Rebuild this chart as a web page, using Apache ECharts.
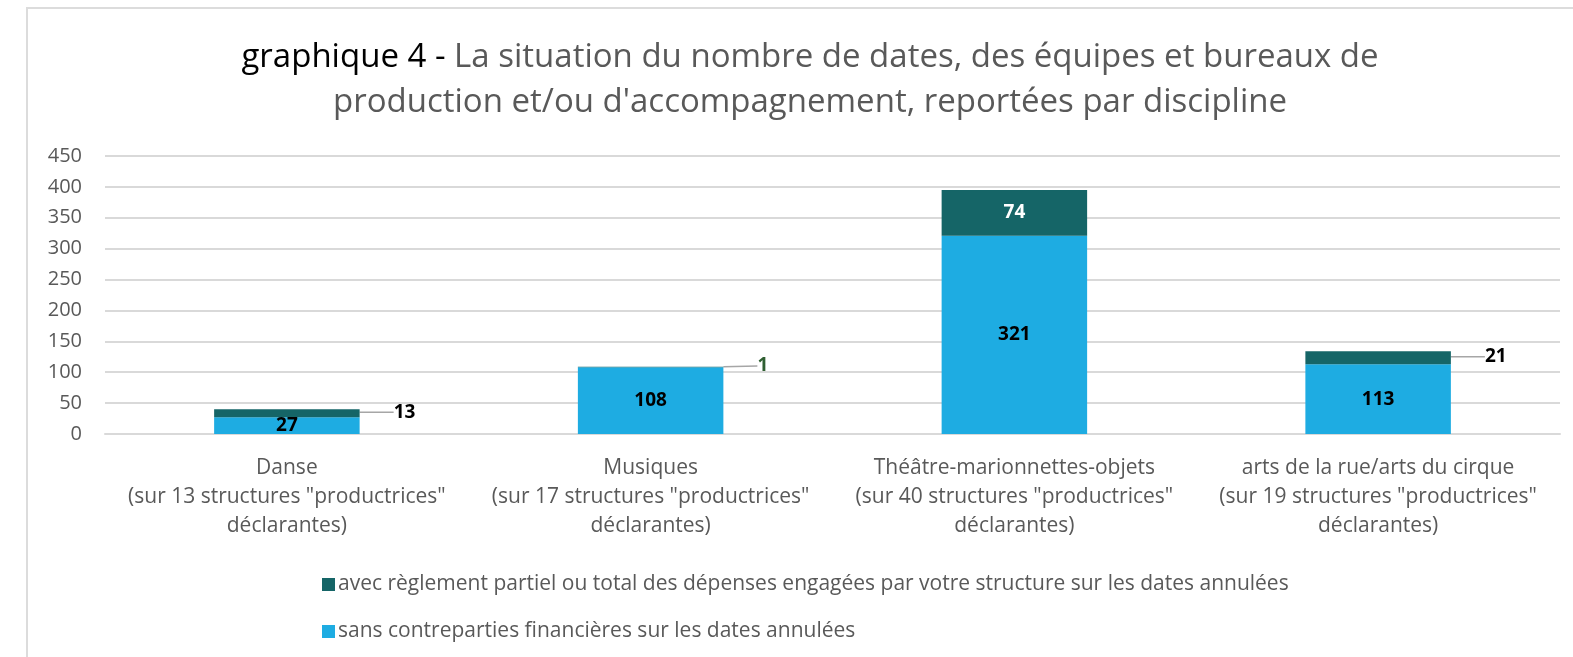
<!DOCTYPE html>
<html>
<head>
<meta charset="utf-8">
<script src="https://cdn.jsdelivr.net/npm/echarts@6/dist/echarts.min.js"></script>
<style>
  html, body { margin: 0; padding: 0; background: #fff; }
  #frame {
    position: absolute; left: 26px; top: 7px; width: 1600px; height: 700px;
    border-left: 2px solid #dcdcdc; border-top: 2px solid #dcdcdc;
  }
  #chart { position: absolute; left: 0; top: 0; width: 1573px; height: 657px; }
</style>
</head>
<body>
<div id="frame"></div>
<div id="chart"></div>
<script>
var categories = [
  'Danse\n(sur 13 structures "productrices"\ndéclarantes)',
  'Musiques\n(sur 17 structures "productrices"\ndéclarantes)',
  'Théâtre-marionnettes-objets\n(sur 40 structures "productrices"\ndéclarantes)',
  'arts de la rue/arts du cirque\n(sur 19 structures "productrices"\ndéclarantes)'
];
var sansValues = [27, 108, 321, 113];
var avecValues = [13, 1, 74, 21];
var seriesNames = [
  'avec règlement partiel ou total des dépenses engagées par votre structure sur les dates annulées',
  'sans contreparties financières sur les dates annulées'
];

var font = '"Open Sans", Lato, sans-serif';
var gray = '#595959';

var chart = echarts.init(document.getElementById('chart'));

// small top segments get their label outside, on the right, with a guide line
var avecData = avecValues.map(function (v, i) {
  if (i === 2) {
    return { value: v, label: { position: 'inside', color: '#fff' } };
  }
  return {
    value: v,
    label: { position: 'right', distance: 4, color: i === 1 ? '#2f5f32' : '#000' }
  };
});

var option = {
  animation: false,
  title: {
    left: 805,
    top: 30,
    textAlign: 'center',
    text: '{a|graphique 4 - }{b|La situation du nombre de dates, des équipes et bureaux de}\n{b|production et/ou d\'accompagnement, reportées par discipline}',
    textStyle: {
      fontFamily: font,
      fontWeight: 'normal',
      rich: {
        a: { fontSize: 33, color: '#000', fontFamily: font, fontWeight: 'normal', lineHeight: 45 },
        b: { fontSize: 33, color: gray, fontFamily: font, fontWeight: 'normal', lineHeight: 45 }
      }
    }
  },
  legend: {
    orient: 'vertical',
    left: 317,
    top: 569,
    itemWidth: 13,
    itemHeight: 13,
    itemGap: 26,
    icon: 'rect',
    data: seriesNames,
    textStyle: { fontFamily: font, fontSize: 21, color: gray, padding: [0, 0, 0, -2] }
  },
  grid: {
    left: 105,
    right: 13,
    top: 156,
    bottom: 223
  },
  xAxis: {
    type: 'category',
    data: categories,
    axisTick: { show: false },
    axisLine: { lineStyle: { color: '#d9d9d9', width: 2 } },
    axisLabel: {
      fontFamily: font,
      fontSize: 21,
      lineHeight: 29,
      color: gray,
      margin: 20,
      interval: 0
    }
  },
  yAxis: {
    type: 'value',
    min: 0,
    max: 450,
    interval: 50,
    axisLine: { show: false },
    axisTick: { show: false },
    splitLine: { lineStyle: { color: '#d9d9d9', width: 2 } },
    axisLabel: {
      fontFamily: font,
      fontSize: 20,
      color: gray,
      margin: 23
    }
  },
  series: [
    {
      name: seriesNames[1],
      type: 'bar',
      stack: 'total',
      barWidth: '40%',
      itemStyle: { color: '#1eace2' },
      data: sansValues,
      label: {
        show: true,
        position: 'inside',
        fontFamily: font,
        fontSize: 19,
        fontWeight: 'bold',
        color: '#000'
      }
    },
    {
      name: seriesNames[0],
      type: 'bar',
      stack: 'total',
      barWidth: '40%',
      itemStyle: { color: '#156567' },
      data: avecData,
      label: {
        show: true,
        fontFamily: font,
        fontSize: 19,
        fontWeight: 'bold'
      },
      labelLine: {
        show: true,
        lineStyle: { color: '#a6a6a6', width: 1.5 }
      },
      labelLayout: function (params) {
        if (params.dataIndex === 2) return {};
        return { dx: 30, dy: -1 };
      }
    }
  ]
};

chart.setOption(option);
</script>
</body>
</html>
